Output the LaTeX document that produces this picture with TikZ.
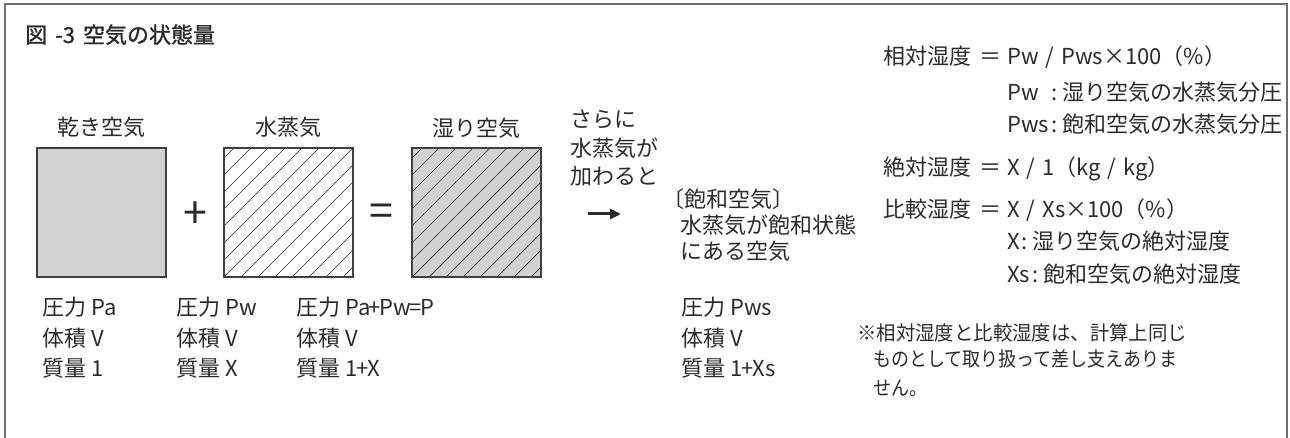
\documentclass[tikz,border=0pt]{standalone}
\usepackage{fontspec}
\setmainfont{Noto Sans CJK JP}
\newfontfamily\titlefont[FakeBold=1.2]{Noto Sans CJK JP}
\usepackage{graphicx}
\usetikzlibrary{arrows.meta}
\definecolor{txt}{HTML}{2A2A2A}
\definecolor{boxgray}{HTML}{D1D2D4}
\definecolor{framegray}{HTML}{6E6E6E}
\definecolor{edge}{HTML}{404040}
\newcommand\slsep{\hspace{7pt}/\hspace{7pt}}
\newcommand\eqsep{\hspace{8pt}＝\hspace{6pt}}
\newcommand\clsep{\hspace{2pt}:\hspace{5pt}}
\begin{document}
\begin{tikzpicture}[x=1pt,y=1pt,
  t/.style={anchor=base west,inner sep=0pt,text=txt,font=\fontsize{22}{30}\selectfont},
  tc/.style={t,anchor=base},
  ts/.style={t,font=\fontsize{20}{28}\selectfont},
  sym/.style={inner sep=0pt,text=txt,font=\fontsize{43}{43}\selectfont},
  sq/.style={draw=edge,line width=1.3pt,minimum size=129pt,inner sep=0pt},
  hatch/.style={line width=0.7pt,draw=black!85}]
\useasboundingbox (0,0) rectangle (1290,-438);
\clip (0,0) rectangle (1290,-438);
% frame
\draw[framegray,line width=2pt] (5,-440) -- (5,-4.5) -- (1287,-4.5) -- (1287,-440);
% title
\node[t,font=\fontsize{22}{30}\titlefont] (title) at (25,-43) {図\hspace{8pt}-3\hspace{8pt}空気の状態量};
% box 1
\node[sq,fill=boxgray] (b1) at (101.5,-212.5) {};
% box 2 hatch
\begin{scope}
  \clip (224,-277) rectangle (353,-148);
  \foreach \k in {-8,...,8} \draw[hatch] (224+\k*17,-277) -- ++(129,129);
\end{scope}
\node[sq] (b2) at (288.5,-212.5) {};
% box 3
\fill[boxgray] (412,-277) rectangle (541,-148);
\begin{scope}
  \clip (412,-277) rectangle (541,-148);
  \foreach \k in {-8,...,8} \draw[hatch] (412+\k*17,-277) -- ++(129,129);
\end{scope}
\node[sq] (b3) at (476.5,-212.5) {};
% labels above boxes
\node[tc] (l1) at (101.5,-136) {乾き空気};
\node[tc] (l2) at (288.5,-136) {水蒸気};
\node[tc] (l3) at (476.5,-137) {湿り空気};
% operators
\node[sym] (plus) at (195,-215) {+};
\node[sym] (eq) at (381,-215) {=};
% arrow text
\node[t] (s1) at (570,-128) {さらに};
\node[t] (s2) at (570,-157) {水蒸気が};
\node[t] (s3) at (570,-185) {加わると};
\coordinate (a1) at (588,-214);
\coordinate (a2) at (621,-214);
\draw[-{Triangle[length=11pt,width=10pt]},line width=3pt,txt] (a1) -- (a2);
% saturated air
\node[t] (h1) at (662,-208) {〔飽和空気〕};
\node[t] (h2) at (680,-234) {水蒸気が飽和状態};
\node[t] (h3) at (680,-260) {にある空気};
% bottom labels
\node[t] (p1) at (42,-316) {圧力 Pa};
\node[t] (v1) at (42,-346) {体積 V};
\node[t] (m1) at (42,-376) {質量 1};
\node[t] (p2) at (176,-316) {圧力 Pw};
\node[t] (v2) at (176,-346) {体積 V};
\node[t] (m2) at (176,-376) {質量 X};
\node[t] (p3) at (296,-316) {圧力 Pa\kern-1.5pt+\kern-1.5pt Pw\kern-1.5pt=\kern-1.5pt P};
\node[t] (v3) at (296,-346) {体積 V};
\node[t] (m3) at (296,-376) {質量 1\kern-1pt+\kern-1pt X};
\node[t] (p4) at (681,-316) {圧力 Pws};
\node[t] (v4) at (681,-346) {体積 V};
\node[t] (m4) at (681,-376) {質量 1\kern-1pt+\kern-1pt Xs};
% right column
\node[t] (r1) at (883,-65) {相対湿度\eqsep Pw\slsep Pws×100（\%）};
\node[t] (r2) at (1007,-101) {\rlap{Pw}\phantom{Pws}\clsep 湿り空気の水蒸気分圧};
\node[t] (r3) at (1007,-133) {Pws\clsep 飽和空気の水蒸気分圧};
\node[t] (r4) at (883,-176) {絶対湿度\eqsep X\slsep 1（kg\slsep kg）};
\node[t] (r5) at (883,-218) {比較湿度\eqsep X\slsep Xs×100（\%）};
\node[t] (r6) at (1007,-250) {X\clsep 湿り空気の絶対湿度};
\node[t] (r7) at (1007,-283) {Xs\clsep 飽和空気の絶対湿度};
% note
\node[ts] (n1) at (857,-340) {\scalebox{0.97}[1]{※相対湿度と比較湿度は、計算上同じ}};
\node[ts] (n2) at (873,-366) {\scalebox{0.9}[1]{ものとして取り扱って差し支えありま}};
\node[ts] (n3) at (873,-395) {\scalebox{0.9}[1]{せん。}};
\end{tikzpicture}
\end{document}
